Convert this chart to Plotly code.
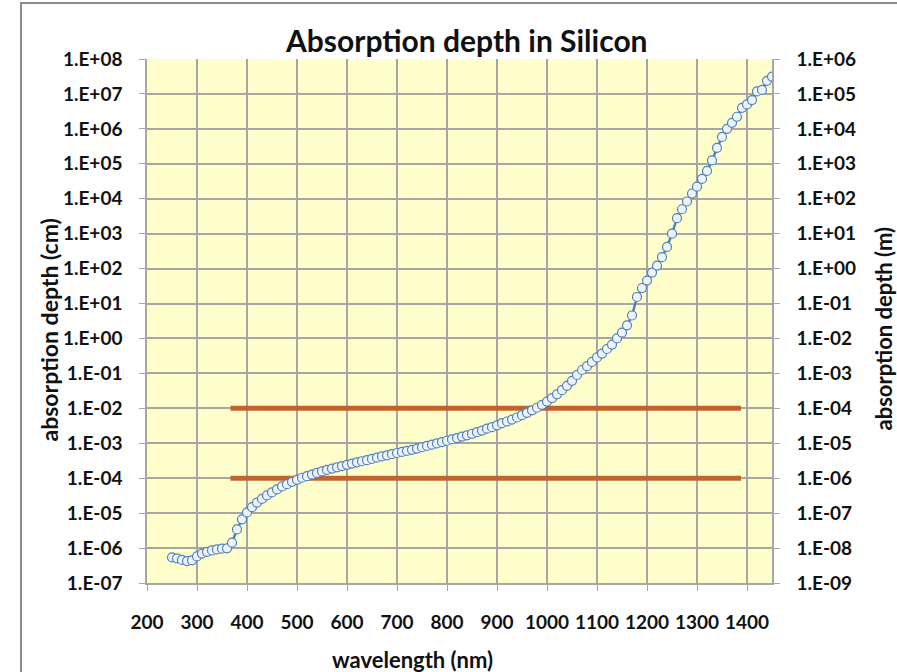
import plotly.graph_objects as go

# wavelength (nm)
wavelength = list(range(250, 1451, 10))
# absorption depth (cm)
depth_cm = [
    5.43e-7, 5.08e-7, 4.59e-7, 4.24e-7, 4.46e-7, 5.78e-7, 6.94e-7, 7.81e-7, 8.55e-7, 9.17e-7,
    9.62e-7, 9.80e-7, 1.43e-6, 3.41e-6, 6.67e-6, 1.05e-5, 1.48e-5, 2.00e-5, 2.55e-5, 3.22e-5,
    3.92e-5, 4.76e-5, 5.81e-5, 6.76e-5, 7.87e-5, 9.01e-5, 1.03e-4, 1.14e-4, 1.27e-4, 1.42e-4,
    1.56e-4, 1.73e-4, 1.88e-4, 2.05e-4, 2.23e-4, 2.42e-4, 2.62e-4, 2.84e-4, 3.06e-4, 3.29e-4,
    3.56e-4, 3.88e-4, 4.20e-4, 4.52e-4, 4.88e-4, 5.26e-4, 5.65e-4, 6.02e-4, 6.49e-4, 7.04e-4,
    7.69e-4, 8.40e-4, 9.09e-4, 9.90e-4, 1.08e-3, 1.18e-3, 1.29e-3, 1.41e-3, 1.55e-3, 1.69e-3,
    1.87e-3, 2.08e-3, 2.31e-3, 2.61e-3, 2.89e-3, 3.27e-3, 3.75e-3, 4.20e-3, 4.76e-3, 5.46e-3,
    6.37e-3, 7.46e-3, 8.77e-3, 1.04e-2, 1.26e-2, 1.56e-2, 1.96e-2, 2.51e-2, 3.31e-2, 4.42e-2,
    6.13e-2, 9.01e-2, 0.125, 0.161, 0.213, 0.286, 0.370, 0.500, 0.667, 1.00,
    1.47, 2.38, 4.55, 15.4, 27.8, 45.5, 76.9, 122, 213, 417,
    1000, 2780, 5000, 8330, 1.41e4, 2.22e4, 3.70e4, 6.25e4, 1.25e5, 2.86e5,
    5.88e5, 1.0e6, 1.49e6, 2.22e6, 4.0e6, 5.0e6, 6.67e6, 1.18e7, 1.30e7, 2.38e7,
    3.13e7,
]

# reference lines
ref_x = [367, 1388]
ref_upper = [1e-2, 1e-2]
ref_lower = [1e-4, 1e-4]

x_ticks = list(range(200, 1401, 100))
left_exps = list(range(-7, 9))
right_exps = list(range(-9, 7))


def excel_label(e):
    return "1.E%s%02d" % ("+" if e >= 0 else "-", abs(e))


BLUE = "#4F81BD"
ORANGE = "#C4622D"
GRID = "#A6A6A6"
FONT = "Lato"
TXT = "#111111"

fig = go.Figure()
for yv in (ref_upper, ref_lower):
    fig.add_trace(go.Scatter(x=ref_x, y=yv, mode="lines",
                             line=dict(color=ORANGE, width=5), hoverinfo="skip"))
fig.add_trace(go.Scatter(
    x=wavelength, y=depth_cm, mode="lines+markers",
    line=dict(color=BLUE, width=2.5),
    marker=dict(symbol="circle", size=9, color="#EEF3FB",
                line=dict(color=BLUE, width=1.2)),
))
# invisible trace on right axis (metres)
fig.add_trace(go.Scatter(x=[wavelength[0]], y=[depth_cm[0] / 100], yaxis="y2",
                         mode="markers", marker=dict(opacity=0), hoverinfo="skip"))

tickfont = dict(family=FONT, size=19, color=TXT, weight="bold")
common = dict(showline=True, linecolor=GRID, linewidth=1.5, ticks="outside", ticklen=6,
              tickcolor=GRID, tickfont=tickfont, zeroline=False)

fig.update_layout(
    width=897, height=672,
    margin=dict(l=147, r=125, t=59, b=89),
    paper_bgcolor="white", plot_bgcolor="#FFFFCC",
    showlegend=False,
    xaxis=dict(range=[200, 1450], tickvals=x_ticks, ticktext=[str(v) for v in x_ticks],
               showgrid=True, gridcolor=GRID, gridwidth=1.5, ticklabelstandoff=15, **common),
    yaxis=dict(type="log", range=[-7, 8],
               tickvals=[10.0 ** e for e in left_exps],
               ticktext=[excel_label(e) for e in left_exps],
               showgrid=True, gridcolor=GRID, gridwidth=1.5, ticklabelstandoff=13, **common),
    yaxis2=dict(type="log", range=[-9, 6], overlaying="y", side="right",
                tickvals=[10.0 ** e for e in right_exps],
                ticktext=[excel_label(e) for e in right_exps],
                showgrid=False, ticklabelstandoff=13, **common),
    annotations=[
        dict(text="<b>Absorption depth in Silicon</b>", xref="paper", yref="paper",
             x=(466.5 - 147) / 625, y=(583 - 40) / 524, xanchor="center", yanchor="middle",
             showarrow=False, font=dict(family=FONT, size=30, color=TXT)),
        dict(text="<b>wavelength (nm)</b>", xref="paper", yref="paper",
             x=(412.5 - 147) / 625, y=(583 - 659) / 524, xanchor="center", yanchor="middle",
             showarrow=False, font=dict(family=FONT, size=22, color=TXT)),
        dict(text="<b>absorption depth (cm)</b>", xref="paper", yref="paper",
             x=(48 - 147) / 625, y=(583 - 329.5) / 524, xanchor="center", yanchor="middle",
             textangle=-90, showarrow=False, font=dict(family=FONT, size=23, color=TXT)),
        dict(text="<b>absorption depth (m)</b>", xref="paper", yref="paper",
             x=(883 - 147) / 625, y=(583 - 328.5) / 524, xanchor="center", yanchor="middle",
             textangle=-90, showarrow=False, font=dict(family=FONT, size=22, color=TXT)),
    ],
    shapes=[dict(type="rect", xref="paper", yref="paper",
                 x0=(21 - 147) / 625, x1=(910 - 147) / 625,
                 y0=(583 - 700) / 524, y1=(583 - 3) / 524,
                 line=dict(color="#8C8C8C", width=2), fillcolor="rgba(0,0,0,0)",
                 layer="below")],
)

# remove the browser's default 8px body margin so the figure fills the window exactly
fig.write_html("out.html", config={"displayModeBar": False},
               post_script="document.body.style.margin='0';")
